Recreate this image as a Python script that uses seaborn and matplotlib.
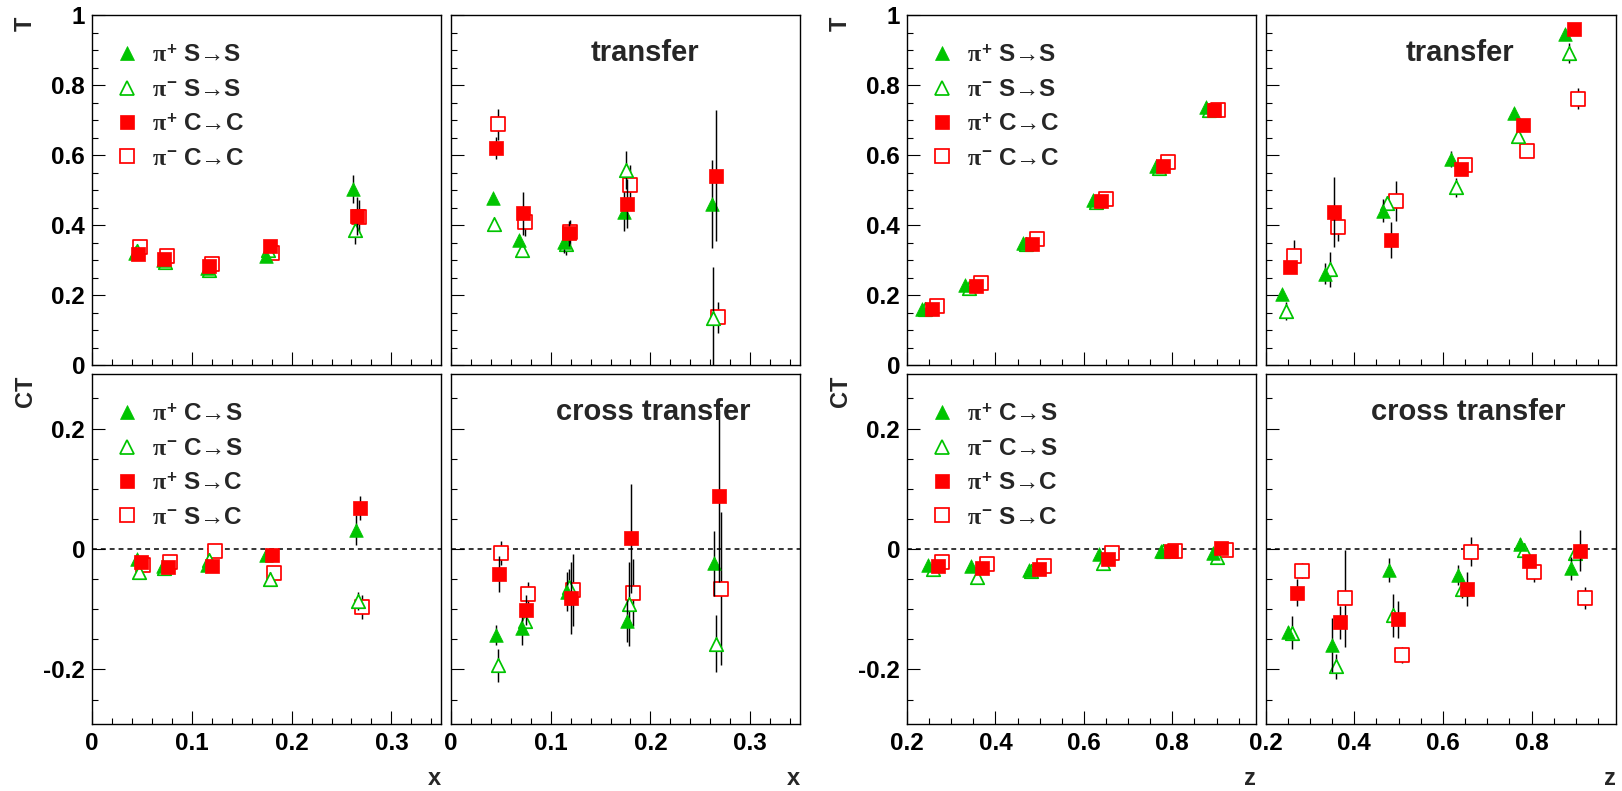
import numpy as np
import matplotlib
matplotlib.use("Agg")
import matplotlib.pyplot as plt
import seaborn as sns
from matplotlib.ticker import MultipleLocator, FuncFormatter
from matplotlib.lines import Line2D

# ---------------------------------------------------------------------------
# Data: transfer (T) and cross transfer (CT) vs x and z
# series: gp = pi+ (green, filled), gm = pi- (green, open),
#         rp = pi+ (red, filled),   rm = pi- (red, open)
# ---------------------------------------------------------------------------

# --- x dependence, T, left panel
xA_gp_pos = [0.043, 0.071, 0.115, 0.174, 0.262]
xA_gp_val = [0.320, 0.300, 0.279, 0.312, 0.504]
xA_gp_err = [0.010, 0.010, 0.010, 0.012, 0.040]
xA_gm_pos = [0.045, 0.073, 0.117, 0.176, 0.264]
xA_gm_val = [0.326, 0.296, 0.272, 0.330, 0.387]
xA_gm_err = [0.010, 0.010, 0.010, 0.012, 0.040]
xA_rp_pos = [0.0457, 0.072, 0.117, 0.178, 0.266]
xA_rp_val = [0.318, 0.304, 0.285, 0.342, 0.427]
xA_rp_err = [0.008, 0.008, 0.008, 0.010, 0.055]
xA_rm_pos = [0.048, 0.0747, 0.120, 0.180, 0.268]
xA_rm_val = [0.339, 0.312, 0.289, 0.322, 0.423]
xA_rm_err = [0.008, 0.008, 0.008, 0.010, 0.050]

# --- x dependence, T, transfer panel
xB_gp_pos = [0.042, 0.0687, 0.1137, 0.173, 0.262]
xB_gp_val = [0.477, 0.358, 0.351, 0.439, 0.461]
xB_gp_err = [0.012, 0.015, 0.030, 0.055, 0.126]
xB_gm_pos = [0.0437, 0.071, 0.1153, 0.1753, 0.2627]
xB_gm_val = [0.404, 0.328, 0.346, 0.558, 0.134]
xB_gm_err = [0.012, 0.015, 0.030, 0.055, 0.148]
xB_rp_pos = [0.0457, 0.0727, 0.118, 0.177, 0.2653]
xB_rp_val = [0.620, 0.434, 0.377, 0.461, 0.542]
xB_rp_err = [0.031, 0.061, 0.035, 0.070, 0.187]
xB_rm_pos = [0.0477, 0.0747, 0.1197, 0.1793, 0.2677]
xB_rm_val = [0.689, 0.410, 0.380, 0.514, 0.137]
xB_rm_err = [0.044, 0.040, 0.035, 0.058, 0.045]

# --- x dependence, CT, left panel
xC_gp_pos = [0.0447, 0.0713, 0.1157, 0.1747, 0.2647]
xC_gp_val = [-0.017, -0.028, -0.027, -0.010, 0.0315]
xC_gp_err = [0.008, 0.008, 0.008, 0.008, 0.025]
xC_gm_pos = [0.047, 0.072, 0.1173, 0.1787, 0.2663]
xC_gm_val = [-0.038, -0.032, -0.018, -0.049, -0.087]
xC_gm_err = [0.008, 0.008, 0.008, 0.010, 0.015]
xC_rp_pos = [0.0487, 0.0757, 0.1207, 0.1803, 0.2687]
xC_rp_val = [-0.021, -0.030, -0.029, -0.010, 0.0686]
xC_rp_err = [0.008, 0.008, 0.008, 0.008, 0.020]
xC_rm_pos = [0.0507, 0.078, 0.123, 0.1823, 0.2707]
xC_rm_val = [-0.0266, -0.022, -0.004, -0.040, -0.096]
xC_rm_err = [0.008, 0.008, 0.008, 0.008, 0.020]

# --- x dependence, CT, cross transfer panel
xD_gp_pos = [0.0453, 0.0717, 0.1167, 0.1767, 0.264]
xD_gp_val = [-0.143, -0.131, -0.071, -0.120, -0.024]
xD_gp_err = [0.017, 0.028, 0.032, 0.035, 0.054]
xD_gm_pos = [0.047, 0.074, 0.1183, 0.1787, 0.266]
xD_gm_val = [-0.193, -0.119, -0.0625, -0.091, -0.157]
xD_gm_err = [0.027, 0.020, 0.030, 0.070, 0.047]
xD_rp_pos = [0.0487, 0.0753, 0.1203, 0.1807, 0.2687]
xD_rp_val = [-0.042, -0.101, -0.081, 0.0177, 0.088]
xD_rp_err = [0.030, 0.025, 0.060, 0.090, 0.143]
xD_rm_pos = [0.0503, 0.0777, 0.1227, 0.1827, 0.2707]
xD_rm_val = [-0.007, -0.075, -0.068, -0.0725, -0.066]
xD_rm_err = [0.020, 0.020, 0.060, 0.056, 0.127]

# --- z dependence, T, left panel
zE_gp_pos = [0.233, 0.331, 0.462, 0.620, 0.763, 0.876]
zE_gp_val = [0.162, 0.229, 0.349, 0.472, 0.570, 0.737]
zE_gp_err = [0.006, 0.006, 0.006, 0.008, 0.010, 0.015]
zE_gm_pos = [0.240, 0.340, 0.470, 0.628, 0.770, 0.884]
zE_gm_val = [0.160, 0.222, 0.346, 0.466, 0.563, 0.730]
zE_gm_err = [0.006, 0.006, 0.006, 0.008, 0.010, 0.015]
zE_rp_pos = [0.2557, 0.355, 0.4835, 0.639, 0.780, 0.895]
zE_rp_val = [0.160, 0.227, 0.347, 0.468, 0.568, 0.730]
zE_rp_err = [0.006, 0.006, 0.006, 0.008, 0.010, 0.015]
zE_rm_pos = [0.267, 0.367, 0.4947, 0.649, 0.7895, 0.9045]
zE_rm_val = [0.170, 0.234, 0.362, 0.474, 0.582, 0.728]
zE_rm_err = [0.006, 0.006, 0.006, 0.008, 0.018, 0.015]

# --- z dependence, T, transfer panel
zF_gp_pos = [0.236, 0.334, 0.464, 0.618, 0.760, 0.876]
zF_gp_val = [0.204, 0.261, 0.441, 0.589, 0.720, 0.946]
zF_gp_err = [0.012, 0.030, 0.033, 0.022, 0.015, 0.015]
zF_gm_pos = [0.245, 0.345, 0.4744, 0.630, 0.770, 0.885]
zF_gm_val = [0.156, 0.274, 0.463, 0.508, 0.656, 0.893]
zF_gm_err = [0.026, 0.050, 0.020, 0.027, 0.020, 0.028]
zF_rp_pos = [0.255, 0.354, 0.4835, 0.640, 0.780, 0.895]
zF_rp_val = [0.282, 0.439, 0.358, 0.561, 0.687, 0.960]
zF_rp_err = [0.017, 0.100, 0.052, 0.015, 0.012, 0.012]
zF_rm_pos = [0.2645, 0.364, 0.4932, 0.650, 0.790, 0.905]
zF_rm_val = [0.313, 0.394, 0.469, 0.572, 0.613, 0.761]
zF_rm_err = [0.045, 0.038, 0.058, 0.012, 0.012, 0.030]

# --- z dependence, CT, left panel
zG_gp_pos = [0.2466, 0.344, 0.477, 0.634, 0.774, 0.891]
zG_gp_val = [-0.027, -0.029, -0.035, -0.008, -0.004, -0.006]
zG_gp_err = [0.006, 0.006, 0.006, 0.006, 0.006, 0.006]
zG_gm_pos = [0.259, 0.359, 0.480, 0.644, 0.780, 0.900]
zG_gm_val = [-0.034, -0.046, -0.037, -0.024, -0.004, -0.014]
zG_gm_err = [0.006, 0.006, 0.006, 0.006, 0.006, 0.006]
zG_rp_pos = [0.2707, 0.3685, 0.4985, 0.654, 0.797, 0.911]
zG_rp_val = [-0.028, -0.031, -0.033, -0.017, -0.003, 0.002]
zG_rp_err = [0.006, 0.006, 0.006, 0.006, 0.006, 0.006]
zG_rm_pos = [0.2797, 0.380, 0.510, 0.664, 0.806, 0.921]
zG_rm_val = [-0.022, -0.025, -0.028, -0.007, -0.003, -0.002]
zG_rm_err = [0.006, 0.006, 0.006, 0.006, 0.006, 0.006]

# --- z dependence, CT, cross transfer panel
zH_gp_pos = [0.2496, 0.349, 0.479, 0.6346, 0.775, 0.890]
zH_gp_val = [-0.137, -0.159, -0.035, -0.043, 0.008, -0.032]
zH_gp_err = [0.010, 0.045, 0.020, 0.016, 0.010, 0.019]
zH_gm_pos = [0.260, 0.3586, 0.488, 0.6436, 0.7827, 0.8977]
zH_gm_val = [-0.139, -0.195, -0.110, -0.066, -0.002, -0.006]
zH_gm_err = [0.027, 0.020, 0.036, 0.015, 0.012, 0.012]
zH_rp_pos = [0.270, 0.368, 0.4993, 0.654, 0.7947, 0.909]
zH_rp_val = [-0.0725, -0.122, -0.117, -0.066, -0.020, -0.003]
zH_rp_err = [0.022, 0.028, 0.031, 0.028, 0.010, 0.034]
zH_rm_pos = [0.281, 0.379, 0.5083, 0.6639, 0.8053, 0.9203]
zH_rm_val = [-0.036, -0.082, -0.176, -0.0044, -0.039, -0.081]
zH_rm_err = [0.012, 0.080, 0.014, 0.024, 0.016, 0.018]

# legend labels
labels_T = [r"$\pi^{\mathbf{+}}$ S→S", r"$\pi^{\mathbf{-}}$ S→S",
            r"$\pi^{\mathbf{+}}$ C→C", r"$\pi^{\mathbf{-}}$ C→C"]
labels_CT = [r"$\pi^{\mathbf{+}}$ C→S", r"$\pi^{\mathbf{-}}$ C→S",
             r"$\pi^{\mathbf{+}}$ S→C", r"$\pi^{\mathbf{-}}$ S→C"]

# ---------------------------------------------------------------------------
sns.set_theme(style="ticks")
plt.rcParams.update({
    "font.family": ["Liberation Sans", "DejaVu Sans"],
    "font.weight": "bold",
    "mathtext.fontset": "custom",
    "mathtext.rm": "Liberation Serif",
    "mathtext.it": "Liberation Serif",
    "mathtext.bf": "Liberation Sans:bold",
    "axes.unicode_minus": False,
})

GREEN = "#00c400"
RED = "#ff0000"

# marker style for each series key
STYLE = {
    "gp": dict(marker="^", color=GREEN, filled=True),
    "gm": dict(marker="^", color=GREEN, filled=False),
    "rp": dict(marker="s", color=RED, filled=True),
    "rm": dict(marker="s", color=RED, filled=False),
}
DRAW_ORDER = ["rm", "gm", "gp", "rp"]
LEGEND_ORDER = ["gp", "gm", "rp", "rm"]

W, H = 1622, 791
fig = plt.figure(figsize=(W / 100, H / 100), dpi=100)
fig.patch.set_facecolor("white")


def px_axes(x0, x1, y0, y1):
    """Create axes from pixel box (left, right, top, bottom)."""
    return fig.add_axes([x0 / W, 1 - y1 / H, (x1 - x0) / W, (y1 - y0) / H])


def tick_fmt(v, _):
    if abs(v) < 1e-9:
        return "0"
    return f"{round(v, 4):g}"


def style_axes(ax, xlim, ylim, xmaj, xmin, ymaj, ymin, show_x, show_y):
    ax.set_facecolor("white")
    ax.grid(False)
    ax.set_xlim(*xlim)
    ax.set_ylim(*ylim)
    ax.xaxis.set_major_locator(MultipleLocator(xmaj))
    ax.xaxis.set_minor_locator(MultipleLocator(xmin))
    ax.yaxis.set_major_locator(MultipleLocator(ymaj))
    ax.yaxis.set_minor_locator(MultipleLocator(ymin))
    ax.xaxis.set_major_formatter(FuncFormatter(tick_fmt))
    ax.yaxis.set_major_formatter(FuncFormatter(tick_fmt))
    ax.tick_params(which="both", direction="in", top=False, right=False,
                   left=True, bottom=True, colors="black", width=0.8,
                   labelsize=17.5)
    ax.tick_params(which="major", length=9.3)
    ax.tick_params(which="minor", length=4.6)
    ax.tick_params(axis="x", pad=6, labelbottom=show_x)
    ax.tick_params(axis="y", pad=5, labelleft=show_y)
    for lab in ax.get_xticklabels() + ax.get_yticklabels():
        lab.set_fontweight("bold")
    for sp in ax.spines.values():
        sp.set_visible(True)
        sp.set_color("black")
        sp.set_linewidth(1.0)


def draw_series(ax, data):
    z = 2
    for key in DRAW_ORDER:
        pos, val, err = data[key]
        st = STYLE[key]
        ax.errorbar(pos, val, yerr=err, fmt="none", ecolor="black",
                    elinewidth=1.05, capsize=0, zorder=z)
        if st["filled"]:
            sns.scatterplot(x=pos, y=val, marker=st["marker"],
                            s=96 if st["marker"] == "^" else 90,
                            color=st["color"], edgecolor=st["color"],
                            linewidth=0.5, ax=ax, zorder=z + 1, legend=False)
        else:
            sns.scatterplot(x=pos, y=val, marker=st["marker"], s=94,
                            color=st["color"], facecolor="white",
                            edgecolor=st["color"], linewidth=1.25,
                            ax=ax, zorder=z + 1, legend=False)
        z += 2


def add_legend(ax, labels):
    handles = []
    for key in LEGEND_ORDER:
        st = STYLE[key]
        handles.append(Line2D([], [], linestyle="none", marker=st["marker"],
                              markersize=9.4 if st["filled"] else 9.6,
                              markerfacecolor=st["color"] if st["filled"] else "white",
                              markeredgecolor=st["color"],
                              markeredgewidth=0.5 if st["filled"] else 1.25))
    ax.legend(handles, labels, loc="upper left", bbox_to_anchor=(0.066, 0.919),
              frameon=False, fontsize=17.5, handlelength=1.0, handletextpad=0.5,
              labelspacing=0.47, borderpad=0, borderaxespad=0)


# panel boxes in pixels (left, right, top, bottom)
XL, XR = (92, 441.3), (450.7, 800.3)
ZL, ZR = (907, 1256.3), (1265.7, 1615.7)
TOP, BOT = (15.3, 365.3), (374.3, 723.7)

XLIM, ZLIM = (0, 0.35), (0.2, 0.99)
TLIM, CTLIM = (0, 1), (-0.29, 0.29)

panels = [
    # box-x, box-y, xlim, ylim, x ticks, y ticks, labels, data, caption, legend
    (XL, TOP, XLIM, TLIM, (0.1, 0.02), (0.2, 0.05), (False, True),
     {"gp": (xA_gp_pos, xA_gp_val, xA_gp_err), "gm": (xA_gm_pos, xA_gm_val, xA_gm_err),
      "rp": (xA_rp_pos, xA_rp_val, xA_rp_err), "rm": (xA_rm_pos, xA_rm_val, xA_rm_err)},
     None, labels_T),
    (XR, TOP, XLIM, TLIM, (0.1, 0.02), (0.2, 0.05), (False, False),
     {"gp": (xB_gp_pos, xB_gp_val, xB_gp_err), "gm": (xB_gm_pos, xB_gm_val, xB_gm_err),
      "rp": (xB_rp_pos, xB_rp_val, xB_rp_err), "rm": (xB_rm_pos, xB_rm_val, xB_rm_err)},
     ("transfer", 0.555, 0.893), None),
    (XL, BOT, XLIM, CTLIM, (0.1, 0.02), (0.2, 0.05), (True, True),
     {"gp": (xC_gp_pos, xC_gp_val, xC_gp_err), "gm": (xC_gm_pos, xC_gm_val, xC_gm_err),
      "rp": (xC_rp_pos, xC_rp_val, xC_rp_err), "rm": (xC_rm_pos, xC_rm_val, xC_rm_err)},
     None, labels_CT),
    (XR, BOT, XLIM, CTLIM, (0.1, 0.02), (0.2, 0.05), (True, False),
     {"gp": (xD_gp_pos, xD_gp_val, xD_gp_err), "gm": (xD_gm_pos, xD_gm_val, xD_gm_err),
      "rp": (xD_rp_pos, xD_rp_val, xD_rp_err), "rm": (xD_rm_pos, xD_rm_val, xD_rm_err)},
     ("cross transfer", 0.579, 0.891), None),
    (ZL, TOP, ZLIM, TLIM, (0.2, 0.05), (0.2, 0.05), (False, True),
     {"gp": (zE_gp_pos, zE_gp_val, zE_gp_err), "gm": (zE_gm_pos, zE_gm_val, zE_gm_err),
      "rp": (zE_rp_pos, zE_rp_val, zE_rp_err), "rm": (zE_rm_pos, zE_rm_val, zE_rm_err)},
     None, labels_T),
    (ZR, TOP, ZLIM, TLIM, (0.2, 0.05), (0.2, 0.05), (False, False),
     {"gp": (zF_gp_pos, zF_gp_val, zF_gp_err), "gm": (zF_gm_pos, zF_gm_val, zF_gm_err),
      "rp": (zF_rp_pos, zF_rp_val, zF_rp_err), "rm": (zF_rm_pos, zF_rm_val, zF_rm_err)},
     ("transfer", 0.555, 0.893), None),
    (ZL, BOT, ZLIM, CTLIM, (0.2, 0.05), (0.2, 0.05), (True, True),
     {"gp": (zG_gp_pos, zG_gp_val, zG_gp_err), "gm": (zG_gm_pos, zG_gm_val, zG_gm_err),
      "rp": (zG_rp_pos, zG_rp_val, zG_rp_err), "rm": (zG_rm_pos, zG_rm_val, zG_rm_err)},
     None, labels_CT),
    (ZR, BOT, ZLIM, CTLIM, (0.2, 0.05), (0.2, 0.05), (True, False),
     {"gp": (zH_gp_pos, zH_gp_val, zH_gp_err), "gm": (zH_gm_pos, zH_gm_val, zH_gm_err),
      "rp": (zH_rp_pos, zH_rp_val, zH_rp_err), "rm": (zH_rm_pos, zH_rm_val, zH_rm_err)},
     ("cross transfer", 0.579, 0.891), None),
]

axes = []
for (bx, by, xlim, ylim, xt, yt, show, data, caption, legend_labels) in panels:
    ax = px_axes(bx[0], bx[1], by[0], by[1])
    is_ct = ylim[0] < 0
    if is_ct:
        ax.axhline(0, color="black", lw=1.1, ls=(0, (3.2, 2.6)), zorder=1)
    draw_series(ax, data)
    style_axes(ax, xlim, ylim, xt[0], xt[1], yt[0], yt[1], show[0], show[1])
    if caption is not None:
        ax.text(caption[1], caption[2], caption[0], transform=ax.transAxes,
                ha="center", va="center", fontsize=21, fontweight="bold",
                zorder=20)
    if legend_labels is not None:
        add_legend(ax, legend_labels)
    axes.append(ax)

# axis titles
for ax in (axes[0], axes[4]):
    ax.text(-0.19, 0.976, "T", transform=ax.transAxes, rotation=90,
            ha="center", va="center", fontsize=17, fontweight="bold")
for ax in (axes[2], axes[6]):
    ax.text(-0.19, 0.950, "CT", transform=ax.transAxes, rotation=90,
            ha="center", va="center", fontsize=17, fontweight="bold")
for ax in (axes[2], axes[3]):
    ax.text(1.0, -0.156, "x", transform=ax.transAxes, ha="right",
            va="center", fontsize=17, fontweight="bold")
for ax in (axes[6], axes[7]):
    ax.text(1.0, -0.156, "z", transform=ax.transAxes, ha="right",
            va="center", fontsize=17, fontweight="bold")

fig.savefig("out.png", dpi=100, facecolor="white")
